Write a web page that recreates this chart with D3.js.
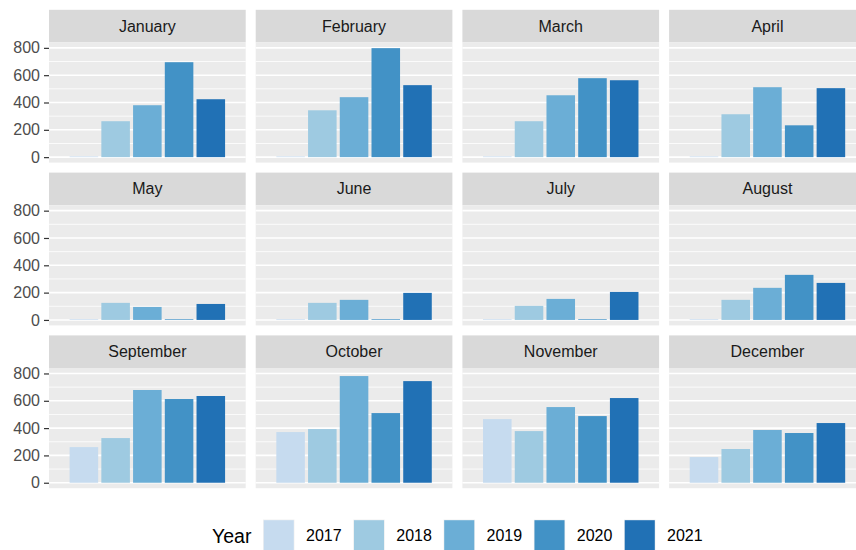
<!DOCTYPE html>
<html>
<head>
<meta charset="utf-8">
<script src="https://cdn.jsdelivr.net/npm/d3@7"></script>
<style>
  body { margin: 0; background: #fff; }
  svg { display: block; font-family: "Liberation Sans", Arial, sans-serif; }
</style>
</head>
<body>
<div id="chart"></div>
<script>
// data
var months = ["January","February","March","April","May","June","July","August","September","October","November","December"];
var years = ["2017","2018","2019","2020","2021"];
var v2017 = [5, 5, 5, 5, 5, 5, 5, 5, 261, 371, 466, 188];
var v2018 = [263, 343, 263, 314, 125, 125, 103, 147, 327, 393, 378, 247];
var v2019 = [380, 439, 453, 512, 95, 147, 154, 235, 679, 781, 554, 386];
var v2020 = [695, 798, 578, 233, 5, 5, 5, 330, 613, 510, 488, 364];
var v2021 = [424, 527, 563, 505, 117, 198, 205, 271, 635, 744, 620, 437];
var yTicks = [0, 200, 400, 600, 800];
var yMinor = [100, 300, 500, 700];
var colors = ["#c6dbef", "#9ecae1", "#6baed6", "#4292c6", "#2171b5"];

var series = [v2017, v2018, v2019, v2020, v2021];

var width = 856, height = 550;
var left = 49, top0 = 9.8;
var panelW = 196.7, stripH = 32.6, panelH = 120.2, gap = 10;
var ncol = 4;

var svg = d3.select("#chart").append("svg")
    .attr("width", width)
    .attr("height", height);

var y = d3.scaleLinear().domain([-40, 840]).range([panelH, 0]);
var x = d3.scaleBand().domain(years).range([0, panelW]).paddingInner(0.1).paddingOuter(0.65);
var color = d3.scaleOrdinal().domain(years).range(colors);

months.forEach(function(m, mi) {
    var col = mi % ncol, row = Math.floor(mi / ncol);
    var px = left + col * (panelW + gap);
    var py = top0 + row * (stripH + panelH + gap);

    var g = svg.append("g").attr("transform", "translate(" + px + "," + py + ")");

    // strip
    g.append("rect")
        .attr("width", panelW).attr("height", stripH)
        .attr("fill", "#d9d9d9");
    g.append("text")
        .attr("x", panelW / 2).attr("y", stripH / 2)
        .attr("text-anchor", "middle")
        .attr("dominant-baseline", "central")
        .attr("font-size", 16)
        .attr("fill", "#1a1a1a")
        .text(m);

    var p = g.append("g").attr("transform", "translate(0," + stripH + ")");
    p.append("rect")
        .attr("width", panelW).attr("height", panelH)
        .attr("fill", "#ebebeb");

    p.selectAll(".minor").data(yMinor).enter().append("line")
        .attr("x1", 0).attr("x2", panelW)
        .attr("y1", d => y(d)).attr("y2", d => y(d))
        .attr("stroke", "#fff").attr("stroke-width", 0.8);
    p.selectAll(".major").data(yTicks).enter().append("line")
        .attr("x1", 0).attr("x2", panelW)
        .attr("y1", d => y(d)).attr("y2", d => y(d))
        .attr("stroke", "#fff").attr("stroke-width", 1.6);

    var vals = years.map((yr, i) => ({year: yr, value: series[i][mi]}));
    p.selectAll(".bar").data(vals).enter().append("rect")
        .attr("x", d => x(d.year))
        .attr("width", x.bandwidth())
        .attr("y", d => y(d.value))
        .attr("height", d => y(0) - y(d.value))
        .attr("fill", d => color(d.year));

    if (col == 0) {
        var ax = p.append("g")
            .call(d3.axisLeft(y).tickValues(yTicks).tickSize(5).tickPadding(4));
        ax.select(".domain").remove();
        ax.selectAll(".tick line").attr("stroke", "#333").attr("stroke-width", 1.2);
        ax.selectAll(".tick text")
            .attr("fill", "#4d4d4d")
            .attr("font-size", 16)
            .attr("font-family", "Liberation Sans, Arial, sans-serif");
    }
});

// legend
var lg = svg.append("g").attr("transform", "translate(0,535.5)");
lg.append("text")
    .attr("x", 212).attr("y", 0)
    .attr("dominant-baseline", "central")
    .attr("font-size", 19.5)
    .attr("fill", "#000")
    .text("Year");

var keyX = d3.scalePoint().domain(years).range([263, 624]);
var keys = lg.selectAll(".key").data(years).enter().append("g")
    .attr("transform", d => "translate(" + keyX(d) + ",0)");
keys.append("rect")
    .attr("x", 0).attr("y", -16).attr("width", 31.5).attr("height", 31.5)
    .attr("fill", "#f2f2f2");
keys.append("rect")
    .attr("x", 0.7).attr("y", -15.3).attr("width", 30.1).attr("height", 30.1)
    .attr("fill", d => color(d));
keys.append("text")
    .attr("x", 43).attr("y", 0)
    .attr("dominant-baseline", "central")
    .attr("font-size", 16)
    .attr("fill", "#000")
    .text(d => d);
</script>
</body>
</html>
